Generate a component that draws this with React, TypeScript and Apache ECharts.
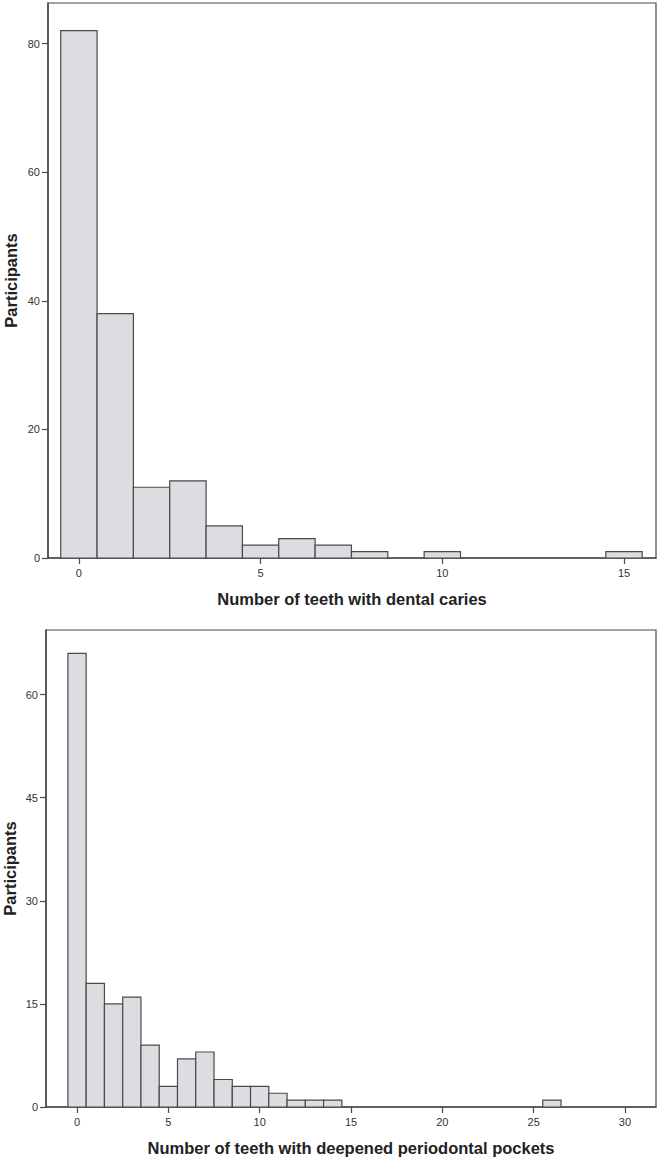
import React, { useEffect, useRef } from "react";
import * as echarts from "echarts";

// Top histogram: number of teeth with dental caries
const cariesBins = [0, 1, 2, 3, 4, 5, 6, 7, 8, 9, 10, 11, 12, 13, 14, 15];
const cariesCounts = [82, 38, 11, 12, 5, 2, 3, 2, 1, 0, 1, 0, 0, 0, 0, 1];
const cariesXTicks = [0, 5, 10, 15];

// Bottom histogram: number of teeth with deepened periodontal pockets
const pocketBins = [0, 1, 2, 3, 4, 5, 6, 7, 8, 9, 10, 11, 12, 13, 14, 26];
const pocketCounts = [66, 18, 15, 16, 9, 3, 7, 8, 4, 3, 3, 2, 1, 1, 1, 1];
const pocketXTicks = [0, 5, 10, 15, 20, 25, 30];

const FONT = "'Liberation Sans', Arial, sans-serif";
const TEXT = "#222";
const LINE = "#4a4a4a";

function toData(bins: number[], counts: number[]) {
  return bins.map((b, i) => [b, counts[i]]).filter((d) => d[1] > 0);
}

const renderBar = (params: any, api: any) => {
  const x = api.value(0);
  const y = api.value(1);
  const p0 = api.coord([x - 0.5, y]);
  const p1 = api.coord([x + 0.5, 0]);
  return {
    type: "rect",
    shape: { x: p0[0], y: p0[1], width: p1[0] - p0[0], height: p1[1] - p0[1] },
    style: { fill: "#dcdde0", stroke: LINE, lineWidth: 1.2 },
  };
};

function xAxisCfg(gridIndex: number, min: number, max: number, ticks: number[], name: string) {
  return {
    type: "value",
    gridIndex,
    min,
    max,
    name,
    nameLocation: "middle",
    nameGap: 32,
    nameMoveOverlap: false,
    nameTextStyle: { fontFamily: FONT, fontSize: 16.5, fontWeight: "bold", color: TEXT },
    axisLine: { show: true, onZero: false, lineStyle: { color: LINE, width: 1.5 } },
    axisTick: { show: true, customValues: ticks, length: 6, lineStyle: { color: LINE, width: 1.2 } },
    axisLabel: { customValues: ticks, fontFamily: FONT, fontSize: 11, color: "#333", margin: 9 },
    splitLine: { show: false },
  };
}

function yAxisCfg(gridIndex: number, max: number, interval: number, gap: number) {
  return {
    type: "value",
    gridIndex,
    min: 0,
    max,
    interval,
    name: "Participants",
    nameLocation: "middle",
    nameGap: gap,
    nameMoveOverlap: false,
    nameTextStyle: { fontFamily: FONT, fontSize: 16.5, fontWeight: "bold", color: TEXT },
    axisLine: { show: true, onZero: false, lineStyle: { color: LINE, width: 1.5 } },
    axisTick: { show: true, length: 6, lineStyle: { color: LINE, width: 1.2 } },
    axisLabel: {
      fontFamily: FONT,
      fontSize: 11,
      color: "#333",
      margin: 8,
      showMaxLabel: false,
      formatter: (v: number) => (v % interval === 0 ? String(v) : ""),
    },
    splitLine: { show: false },
  };
}

export default function App() {
  const ref = useRef<HTMLDivElement>(null);
  useEffect(() => {
    if (!ref.current) return;
    const chart = echarts.init(ref.current, null, { renderer: "svg" });
    chart.setOption({
      animation: false,
      backgroundColor: "#ffffff",
      grid: [
        {
          left: 48, right: 1, top: 3, bottom: 602,
          containLabel: false, outerBoundsMode: "none",
          show: true, borderColor: LINE, borderWidth: 1.2,
        },
        {
          left: 46, right: 1, top: 630, bottom: 53,
          containLabel: false, outerBoundsMode: "none",
          show: true, borderColor: LINE, borderWidth: 1.2,
        },
      ],
      xAxis: [
        xAxisCfg(0, -0.85, 15.88, cariesXTicks, "Number of teeth with dental caries"),
        xAxisCfg(1, -1.7, 31.7, pocketXTicks, "Number of teeth with deepened periodontal pockets"),
      ],
      yAxis: [yAxisCfg(0, 86.3, 20, 29), yAxisCfg(1, 69.4, 15, 28)],
      series: [
        {
          type: "custom",
          xAxisIndex: 0,
          yAxisIndex: 0,
          renderItem: renderBar,
          data: toData(cariesBins, cariesCounts),
        },
        {
          type: "custom",
          xAxisIndex: 1,
          yAxisIndex: 1,
          renderItem: renderBar,
          data: toData(pocketBins, pocketCounts),
        },
      ],
    });
    return () => chart.dispose();
  }, []);
  return (
    <div
      ref={ref}
      style={{ position: "absolute", left: 0, top: 0, width: 657, height: 1160, background: "#fff" }}
    />
  );
}
